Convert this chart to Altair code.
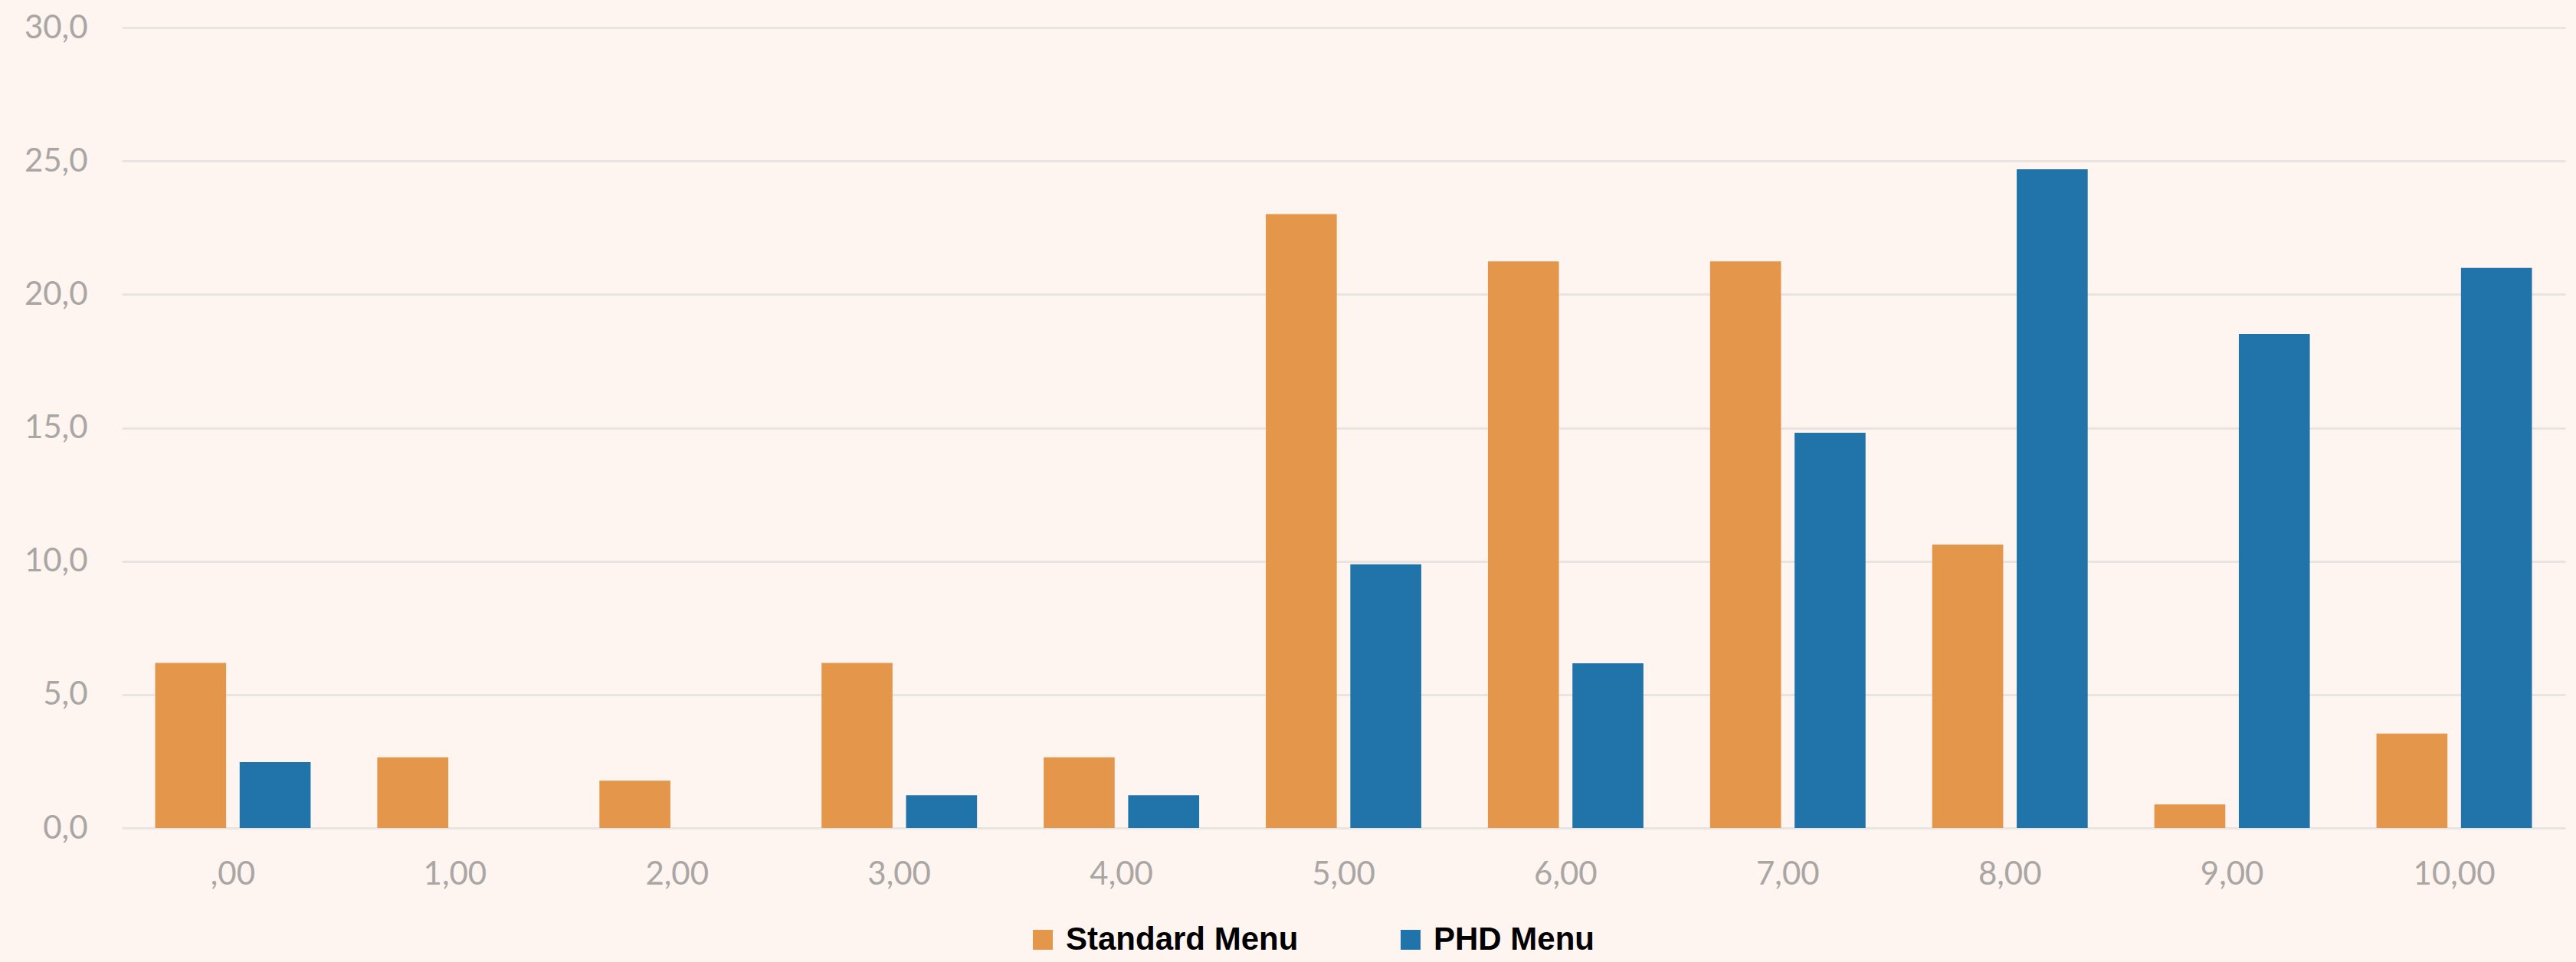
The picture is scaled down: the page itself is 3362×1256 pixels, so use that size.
import altair as alt
import pandas as pd

categories = [",00", "1,00", "2,00", "3,00", "4,00", "5,00", "6,00", "7,00", "8,00", "9,00", "10,00"]
series_names = ["Standard Menu", "PHD Menu"]
standard_menu = [6.19, 2.65, 1.77, 6.19, 2.65, 23.01, 21.24, 21.24, 10.62, 0.88, 3.54]
phd_menu = [2.47, 0.0, 0.0, 1.23, 1.23, 9.88, 6.17, 14.81, 24.69, 18.52, 20.99]
y_ticks = [0, 5, 10, 15, 20, 25, 30]
colors = ["#e4974b", "#2074aa"]

rows = []
for c, s, p in zip(categories, standard_menu, phd_menu):
    rows.append({"cat": c, "series": series_names[0], "value": s})
    rows.append({"cat": c, "series": series_names[1], "value": p})
df = pd.DataFrame(rows)

label_font = "Lato"

chart = (
    alt.Chart(df)
    .mark_bar()
    .encode(
        x=alt.X(
            "cat:N",
            sort=categories,
            scale=alt.Scale(paddingInner=0.3, paddingOuter=0.15),
            axis=alt.Axis(
                title=None,
                domain=False,
                ticks=False,
                grid=False,
                labelAngle=0,
                labelFont=label_font,
                labelFontSize=42,
                labelColor="#a9a6a4",
                labelPadding=40,
            ),
        ),
        xOffset=alt.XOffset(
            "series:N", sort=series_names, scale=alt.Scale(paddingInner=0.16, paddingOuter=0)
        ),
        y=alt.Y(
            "value:Q",
            scale=alt.Scale(domain=[0, 30], nice=False),
            axis=alt.Axis(
                title=None,
                values=y_ticks,
                domain=False,
                ticks=False,
                grid=True,
                gridColor="#e8e4e2",
                gridWidth=3,
                labelFont=label_font,
                labelFontSize=42,
                labelColor="#a9a6a4",
                labelPadding=45,
                labelExpr="replace(format(datum.value, '.1f'), '.', ',')",
            ),
        ),
        color=alt.Color(
            "series:N",
            sort=series_names,
            scale=alt.Scale(domain=series_names, range=colors),
            legend=alt.Legend(
                orient="none",
                legendX=1181,
                legendY=1170,
                direction="horizontal",
                title=None,
                labelFont="Liberation Sans",
                labelFontSize=42,
                labelFontWeight="bold",
                labelColor="#000000",
                symbolType="square",
                symbolSize=676,
                symbolStrokeWidth=0,
                columnPadding=125,
                labelOffset=9,
                padding=0,
                labelLimit=0,
            ),
        ),
    )
    .properties(
        width=3189,
        height=1045,
        autosize=alt.AutoSizeParams(type="none"),
        padding={"left": 159, "top": 36, "right": 14, "bottom": 175},
        background="#fef4f0",
    )
    .configure_view(stroke=None)
)

chart.save("out.html", embed_options={"renderer": "svg", "actions": False})
